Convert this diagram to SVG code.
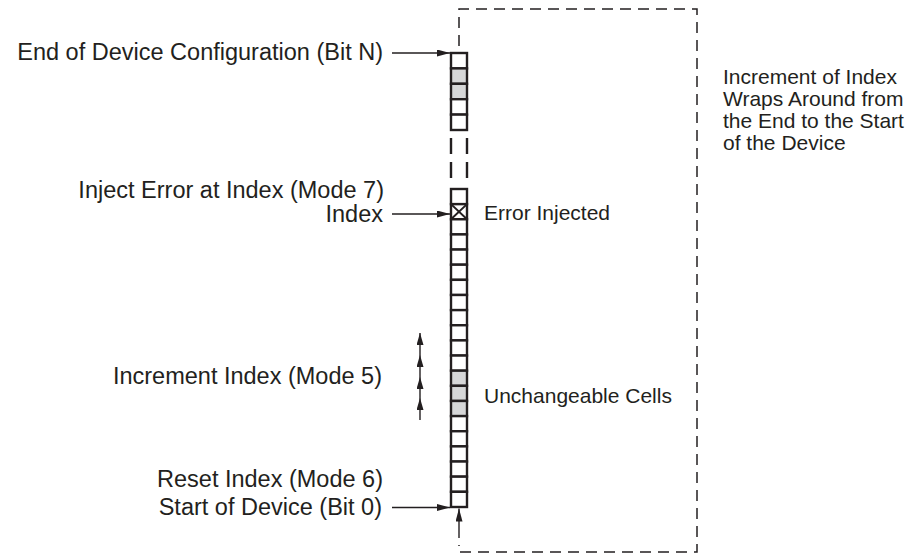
<svg xmlns="http://www.w3.org/2000/svg" width="917" height="555" viewBox="0 0 917 555">
<defs>
<style>
.lbl{font-family:"Liberation Sans",Arial,Helvetica,sans-serif;font-size:23.5px;fill:#231f20}
.lbl2{font-family:"Liberation Sans",Arial,Helvetica,sans-serif;font-size:21px;fill:#231f20}
.cell{fill:#ffffff;stroke:#231f20;stroke-width:2.4}
.gray{fill:#d6d7d8}
.conn{stroke:#231f20;stroke-width:1.4;fill:none}
.dash{stroke:#231f20;stroke-width:1.5;fill:none;stroke-dasharray:11 7}
.gap{stroke:#231f20;stroke-width:2.4;fill:none}
</style>
<marker id="ah" viewBox="0 0 13 7" refX="13" refY="3.5" markerWidth="13" markerHeight="7" markerUnits="userSpaceOnUse" orient="auto">
<path d="M0,0 L13,3.5 L0,7 Z" fill="#231f20"/>
</marker>
<marker id="ahs" viewBox="0 0 12 7" refX="12" refY="3.5" markerWidth="12" markerHeight="7" markerUnits="userSpaceOnUse" orient="auto">
<path d="M0,0 L12,3.5 L0,7 Z" fill="#231f20"/>
</marker>
</defs>
<rect width="917" height="555" fill="#ffffff"/>

<g id="wrap-boundary">
<path class="dash" d="M459,46 L459,9 L697,9 L697,552 L459,552 L459,545"/>
</g>

<g id="top-section">
<rect class="cell" x="451" y="53" width="16" height="15.4"/>
<rect class="cell gray" x="451" y="68.4" width="16" height="15.4"/>
<rect class="cell gray" x="451" y="83.8" width="16" height="15.4"/>
<rect class="cell" x="451" y="99.2" width="16" height="15.4"/>
<rect class="cell" x="451" y="114.6" width="16" height="15.4"/>
</g>

<g id="gap">
<path class="gap" d="M451,138 V154 M451,162 V178 M467,138 V154 M467,162 V178"/>
</g>

<g id="bottom-section">
<rect class="cell" x="451" y="189" width="16" height="15.14"/>
<rect class="cell" x="451" y="204.14" width="16" height="15.14"/>
<path d="M451,204.14 L467,219.28 M467,204.14 L451,219.28" stroke="#231f20" stroke-width="2"/>
<rect class="cell" x="451" y="219.28" width="16" height="15.14"/>
<rect class="cell" x="451" y="234.42" width="16" height="15.14"/>
<rect class="cell" x="451" y="249.56" width="16" height="15.14"/>
<rect class="cell" x="451" y="264.7" width="16" height="15.14"/>
<rect class="cell" x="451" y="279.84" width="16" height="15.14"/>
<rect class="cell" x="451" y="294.98" width="16" height="15.14"/>
<rect class="cell" x="451" y="310.12" width="16" height="15.14"/>
<rect class="cell" x="451" y="325.26" width="16" height="15.14"/>
<rect class="cell" x="451" y="340.4" width="16" height="15.14"/>
<rect class="cell" x="451" y="355.54" width="16" height="15.14"/>
<rect class="cell gray" x="451" y="370.68" width="16" height="15.14"/>
<rect class="cell gray" x="451" y="385.82" width="16" height="15.14"/>
<rect class="cell gray" x="451" y="400.96" width="16" height="15.14"/>
<rect class="cell" x="451" y="416.1" width="16" height="15.14"/>
<rect class="cell" x="451" y="431.24" width="16" height="15.14"/>
<rect class="cell" x="451" y="446.38" width="16" height="15.14"/>
<rect class="cell" x="451" y="461.52" width="16" height="15.14"/>
<rect class="cell" x="451" y="476.66" width="16" height="15.14"/>
<rect class="cell" x="451" y="491.8" width="16" height="15.2"/>
</g>

<g id="labels-left">
<text class="lbl" x="383" y="60" text-anchor="end">End of Device Configuration (Bit N)</text>
<text class="lbl" x="384" y="198" text-anchor="end">Inject Error at Index (Mode 7)</text>
<text class="lbl" x="383" y="222" text-anchor="end">Index</text>
<text class="lbl" x="382" y="384" text-anchor="end">Increment Index (Mode 5)</text>
<text class="lbl" x="383" y="487" text-anchor="end">Reset Index (Mode 6)</text>
<text class="lbl" x="382" y="515" text-anchor="end">Start of Device (Bit 0)</text>
</g>

<g id="labels-right">
<text class="lbl2" x="484" y="219.5">Error Injected</text>
<text class="lbl2" x="484" y="402.5">Unchangeable Cells</text>
<text class="lbl2" x="723" y="83.5">Increment of Index</text>
<text class="lbl2" x="723" y="105.5">Wraps Around from</text>
<text class="lbl2" x="723" y="127.5">the End to the Start</text>
<text class="lbl2" x="723" y="149.5">of the Device</text>
</g>

<g id="connectors">
<line class="conn" x1="392" y1="53" x2="450" y2="53" marker-end="url(#ah)"/>
<line class="conn" x1="392" y1="214" x2="450" y2="214" marker-end="url(#ah)"/>
<line class="conn" x1="392" y1="507.5" x2="450" y2="507.5" marker-end="url(#ah)"/>
<line class="conn" x1="459" y1="538" x2="459" y2="508.5" marker-end="url(#ah)"/>
<line class="conn" stroke-width="1" x1="420" y1="420" x2="420" y2="398" marker-end="url(#ahs)"/>
<line class="conn" stroke-width="1" x1="420" y1="398" x2="420" y2="377" marker-end="url(#ahs)"/>
<line class="conn" stroke-width="1" x1="420" y1="377" x2="420" y2="355" marker-end="url(#ahs)"/>
<line class="conn" stroke-width="1" x1="420" y1="355" x2="420" y2="333" marker-end="url(#ahs)"/>
</g>
</svg>
